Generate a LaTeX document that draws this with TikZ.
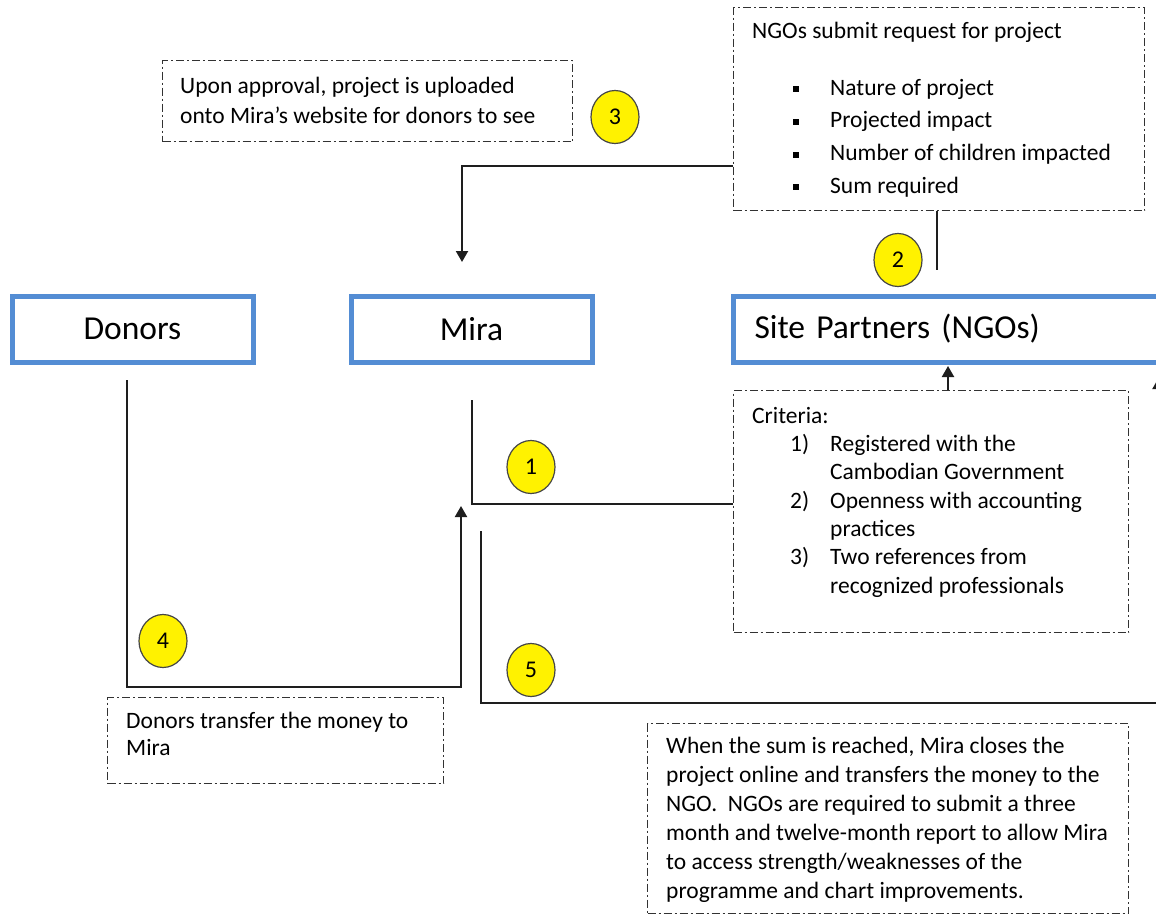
\documentclass[tikz,border=0pt]{standalone}
\usepackage{fontspec}
\setmainfont{Carlito}
\usetikzlibrary{arrows.meta,shapes.geometric,calc}
\definecolor{boxblue}{RGB}{84,141,212}
\definecolor{linegray}{RGB}{30,30,30}
\definecolor{dashgray}{RGB}{50,50,50}
\definecolor{badgeedge}{RGB}{70,70,70}
\newcommand{\fl}{\rule{0pt}{20pt}}
\newcommand{\sqb}{\rule[3pt]{6pt}{6pt}}
\begin{document}
\begin{tikzpicture}[x=1pt,y=-1pt,
  mainbox/.style={draw=boxblue, line width=5pt, fill=white, minimum height=66pt, inner sep=0pt, font=\fontsize{33.5}{40}\selectfont},
  notebox/.style={draw=dashgray, line width=1.3pt, dash pattern=on 8pt off 3pt on 2pt off 3pt, anchor=north west, inner sep=0pt},
  notetext/.style={anchor=north west, inner sep=0pt, align=left, font=\fontsize{23.5}{#1}\selectfont},
  badge/.style={ellipse, draw=badgeedge, fill=yellow, line width=1.2pt, minimum width=48pt, minimum height=53pt, inner sep=0pt, font=\fontsize{24}{26}\selectfont},
  conn/.style={draw=linegray, line width=2pt},
  arr/.style={conn, -{Triangle[width=12pt,length=11pt]}}
]
\clip (0,0) rectangle (1156,915);
\fill[white] (0,0) rectangle (1156,915);

% main boxes
\node[mainbox, minimum width=241pt] (donors) at (132.5,329) {Donors};
\node[mainbox, minimum width=241pt] (mira) at (471.5,329) {Mira};
\node[mainbox, anchor=west, text width=418pt, align=left, inner xsep=21pt] (sites) at (731,329) {Site Partners (NGOs)};

% note boxes
\node[notebox, minimum width=410pt, minimum height=81pt] (boxA) at (162,60) {};
\node[notetext=30] (tA) at (180,73) {\fl Upon approval, project is uploaded\\onto Mira’s website for donors to see};

\node[notebox, minimum width=411pt, minimum height=203pt] (boxB) at (733,7) {};
\node[notetext=32.7] (tB) at (752,18) {\fl NGOs submit request for project\\[24.3pt]
\hspace*{40.7pt}\sqb\hspace{31.3pt}Nature of project\\
\hspace*{40.7pt}\sqb\hspace{31.3pt}Projected impact\\
\hspace*{40.7pt}\sqb\hspace{31.3pt}Number of children impacted\\
\hspace*{40.7pt}\sqb\hspace{31.3pt}Sum required};

\node[notebox, minimum width=395pt, minimum height=242pt] (boxC) at (733,390) {};
\node[notetext=28.3] (tC) at (752,403) {\fl Criteria:\\
\hspace*{38pt}\makebox[40pt][l]{1)}Registered with the\\
\hspace*{78pt}Cambodian Government\\
\hspace*{38pt}\makebox[40pt][l]{2)}Openness with accounting\\
\hspace*{78pt}practices\\
\hspace*{38pt}\makebox[40pt][l]{3)}Two references from\\
\hspace*{78pt}recognized professionals};

\node[notebox, minimum width=336pt, minimum height=86pt] (boxD) at (107,697) {};
\node[notetext=27] (tD) at (126,708) {\fl Donors transfer the money to\\Mira};

\node[notebox, minimum width=481pt, minimum height=190pt] (boxE) at (647,723) {};
\node[notetext=29] (tE) at (666,733) {\fl When the sum is reached, Mira closes the\\
project online and transfers the money to the\\
NGO.~ NGOs are required to submit a three\\
month and twelve-month report to allow Mira\\
to access strength/weaknesses of the\\
programme and chart improvements.};

% badges
\node[badge] (b1) at (531,467) {1};
\node[badge] (b2) at (898,260) {2};
\node[badge] (b3) at (615,117) {3};
\node[badge] (b4) at (163,641) {4};
\node[badge] (b5) at (531,670) {5};

% connectors
\coordinate (p3) at (462,262);
\draw[arr] ($(boxB.north west)+(0,159)$) -| (p3);

\coordinate (p2) at (937,270);
\draw[conn] (boxB.south -| p2) -- (p2);

\coordinate (pC) at (948,366);
\draw[arr] (boxC.north -| pC) -- (pC);

\coordinate (p1a) at (472,400);
\coordinate (p1b) at (733,504);
\draw[conn] (p1a) |- (p1b);

\coordinate (p4a) at (127,380);
\coordinate (p4c) at (461,687);
\coordinate (p4b) at (461,506);
\draw[arr] (p4a) |- (p4c) -- (p4b);

\coordinate (p5a) at (481,531);
\coordinate (p5c) at (1158.5,703);
\coordinate (p5b) at (1158.5,378);
\draw[arr] (p5a) |- (p5c) -- (p5b);
\end{tikzpicture}
\end{document}
